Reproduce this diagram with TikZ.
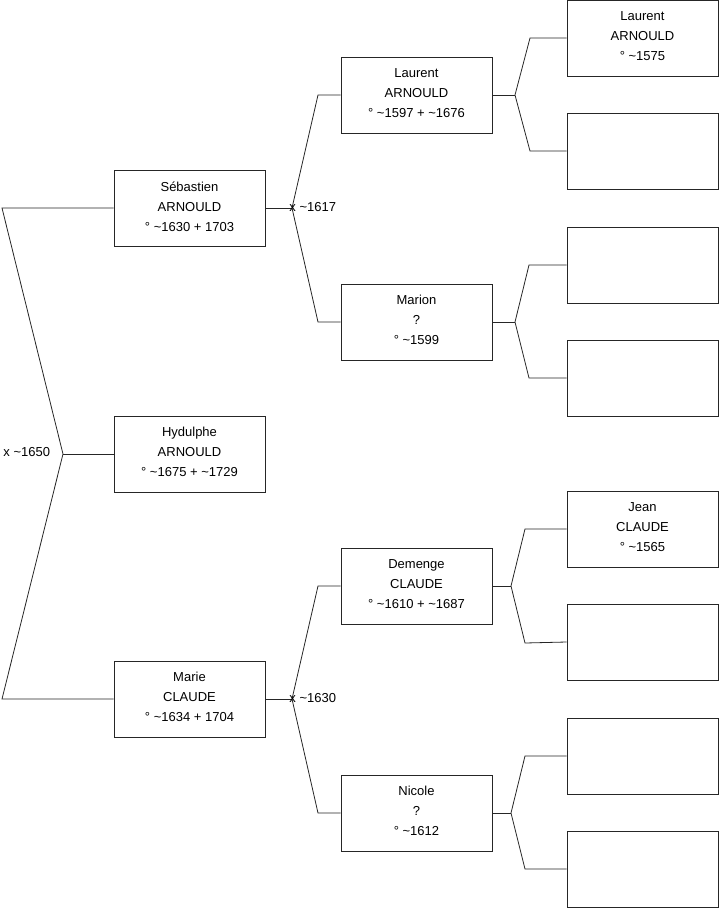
\documentclass[tikz,border=0pt]{standalone}
\usepackage{fontspec}
\setmainfont{Liberation Sans}
\usetikzlibrary{positioning}

\begin{document}
\begin{tikzpicture}[x=1pt, y=-1pt, line width=0.8pt]
  \tikzset{
    person/.style={draw=black!85, minimum width=151pt, minimum height=76pt,
      inner sep=0pt, align=center, font=\fontsize{13}{20}\selectfont,
      execute at end node={\rule[-3.5pt]{0pt}{0pt}}},
    link/.style={draw=black!85},
    union/.style={inner sep=0pt, font=\fontsize{13}{14}\selectfont}
  }
  \useasboundingbox (0,0) rectangle (719,908);
  % generation 1
  \node[person] (hyd) at (189.5,454) {Hydulphe\\ARNOULD\\° \textasciitilde1675 + \textasciitilde1729};
  \node[person] (seb) at (189.5,208) {Sébastien\\ARNOULD\\° \textasciitilde1630 + 1703};
  \node[person] (mar) at (189.5,699) {Marie\\CLAUDE\\° \textasciitilde1634 + 1704};
  % generation 2
  \node[person] (lau) at (416.5,95) {Laurent\\ARNOULD\\° \textasciitilde1597 + \textasciitilde1676};
  \node[person] (mrn) at (416.5,322) {Marion\\?\\° \textasciitilde1599};
  \node[person] (dem) at (416.5,586) {Demenge\\CLAUDE\\° \textasciitilde1610 + \textasciitilde1687};
  \node[person] (nic) at (416.5,813) {Nicole\\?\\° \textasciitilde1612};
  % generation 3
  \node[person] (g1) at (642.5,38) {Laurent\\ARNOULD\\° \textasciitilde1575};
  \node[person] (g5) at (642.5,529) {Jean\\CLAUDE\\° \textasciitilde1565};
  \foreach \n/\y in {g2/151, g3/265, g4/378, g6/642, g7/756, g8/869}
    \node[person] (\n) at (642.5,\y) {};

  % forks
  \coordinate (f0) at (63,454);
  \coordinate (f1) at (292,208);
  \coordinate (f2) at (292,699);
  \coordinate (f3) at (515,95);
  \coordinate (f4) at (515,322);
  \coordinate (f5) at (511,586);
  \coordinate (f6) at (511,813);

  \draw[link] (hyd.west) -- (f0);
  \draw[link] (seb.west) -- (2,208) -- (f0) -- (2,699) -- (mar.west);
  \draw[link] (seb.east) -- (f1);
  \draw[link] (lau.west) -- (318,95) -- (f1) -- (318,322) -- (mrn.west);
  \draw[link] (mar.east) -- (f2);
  \draw[link] (dem.west) -- (318,586) -- (f2) -- (318,813) -- (nic.west);
  \draw[link] (lau.east) -- (f3);
  \draw[link] (g1.west) -- (530,38) -- (f3) -- (530,151) -- (g2.west);
  \draw[link] (mrn.east) -- (f4);
  \draw[link] (g3.west) -- (529,265) -- (f4) -- (529,378) -- (g4.west);
  \draw[link] (dem.east) -- (f5);
  \draw[link] (g5.west) -- (525,529) -- (f5) -- (525,643) -- (g6.west);
  \draw[link] (nic.east) -- (f6);
  \draw[link] (g7.west) -- (525,756) -- (f6) -- (525,869) -- (g8.west);

  % unions
  \node[union, anchor=west] (u0) at (3,452) {x \textasciitilde1650};
  \node[union, anchor=west] (u1) at (289,207) {x \textasciitilde1617};
  \node[union, anchor=west] (u2) at (289,698) {x \textasciitilde1630};
\end{tikzpicture}
\end{document}
